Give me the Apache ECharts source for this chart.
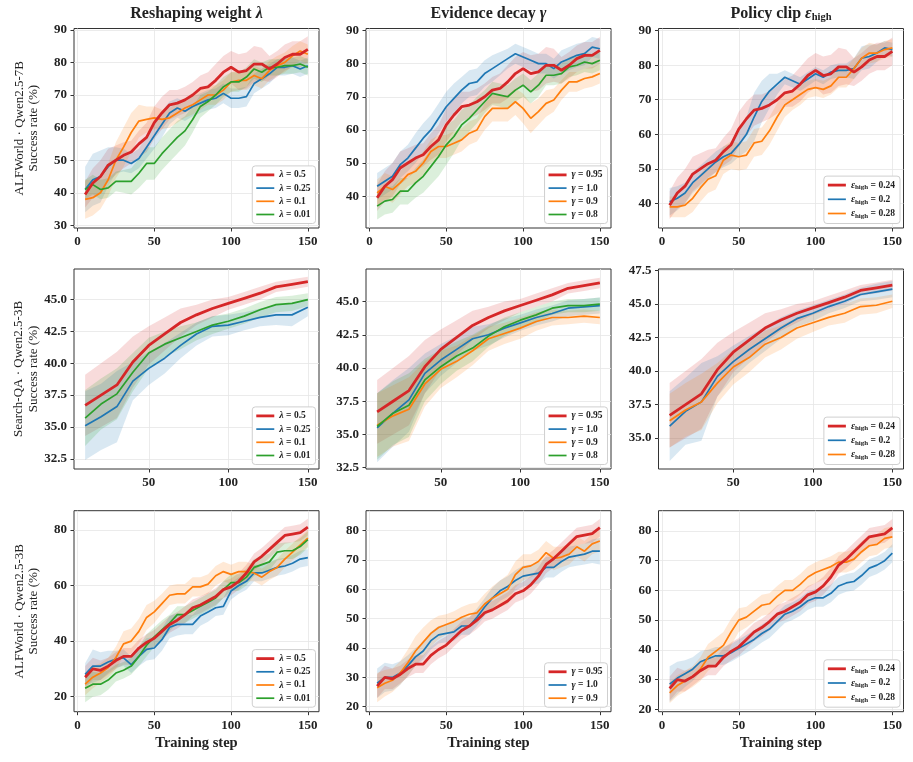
<!DOCTYPE html>
<html>
<head>
<meta charset="utf-8">
<script src="https://cdn.jsdelivr.net/npm/echarts@6/dist/echarts.min.js"></script>
<style>html,body{margin:0;padding:0;background:#fff}#chart{width:913px;height:762px}</style>
</head>
<body>
<div id="chart"></div>
<script>
// training steps
var stepsA = [5,10,15,20,25,30,35,40,45,50,55,60,65,70,75,80,85,90,95,100,105,110,115,120,125,130,135,140,145,150];
var stepsB = [10,20,30,40,50,60,70,80,90,100,110,120,130,140,150];

// row 1: ALFWorld · Qwen2.5-7B  (mean, half band)
var red1    = [39.5,43,45,48.5,50,51.5,52.5,55,57,61.5,64.5,67,67.5,68.5,70,72,72.5,74.5,77,78.5,77,77.5,79.5,79.5,78,79.5,81.5,82.5,82.5,84];
var red1Hw  = [4,4.5,5,5,4.5,4,3.5,4,4.5,5,5,4.5,4,4,4,4,4.5,5,5,5,5.5,5.5,5.5,5,4,4,4,4,4,4];
var lam25a   = [41,44,45,48,50,50,49,50.5,54,57.5,61,64.5,66,65,66.5,67.5,68.5,69,70.5,69,69,69.5,73.5,75,76.5,78.5,78.5,79,78,79];
var lam25aHw = [7,8,8,6,4,3.5,3,3,3.5,4,4,3.5,3,3,3,3,3,3,3,3,3,3,3,3,3,2.5,2.5,2.5,2.5,2.5];
var lam1a    = [38,38.5,40,44,50,54,58.5,62,62.5,63,62.5,63,64.5,66,67,68.5,70,70,71.5,74,74.5,74.5,76,75,77.5,79,80,82,83.5,82.5];
var lam1aHw  = [6,5.5,5,5,5.5,6,6,5,4,3.5,3,3,3,3,3,3,3,3,3,3,3,3,3,3,3,3,3,3,3,3];
var lam01a   = [41,42.5,41,41.5,43.5,43.5,43.5,46,49,49,52,54.5,57,59,62.5,66.5,68,70,72.5,74,74,75.5,78,77,78.5,78.5,79,79,79.5,78.5];
var lam01aHw = [3,3,3,3,3,3.5,4,4.5,5,5,5,5,5,4.5,4,3.5,3,3,3,3,3,3,3,3,2.5,2.5,2.5,2.5,2.5,2.5];
var gam10a   = [43,44.5,46,49.5,51.5,54.5,57.5,60,63.5,67,69.5,72,74,74.5,77,78.5,80,81.5,83,82,81,80,80,78.5,80.5,81.5,82.5,83,85,84.5];
var gam10aHw = [4,4,4,4,4,4.5,4.5,4.5,4.5,4.5,4.5,4,4,4,4,4,3.5,3,3,3,3,3,3,3,3.5,3.5,3.5,3.5,3,3];
var gam09a   = [41,43,42,44,46.5,47.5,50,53.5,55,55,56,57,59,60,64,66.5,66.5,66.5,68.5,66.5,63.5,65.5,68,69,72,74.5,74.5,75.5,76,77];
var gam09aHw = [4,4,4,3.5,3.5,3.5,3.5,3.5,3.5,3.5,3.5,3.5,3.5,3.5,4,4,4,4,4,4.5,4.5,4,4,3.5,3,3,3,3,3,3];
var gam08a   = [37,38.5,39,41.5,41.5,44,46,49,52,55.5,58,61.5,63.5,66,68.5,71,70.5,70,72,73.5,71.5,73.5,76.5,76.5,77,79,79.5,80.5,80,81];
var gam08aHw = [4,4,4,4,4,4.5,5,5.5,6,6,5,4.5,4,4,3.5,3.5,3.5,3.5,3.5,3.5,3.5,3.5,3,3,3,3,3,3,3,3];
var eps20a   = [40.5,41.5,43,46,48,50,52,53.5,54.5,57,60,65,69.5,72.5,74.5,76.5,75.5,74.5,76,77.5,76.5,78,78.5,78.5,79,82,82.5,83.5,85,84.5];
var eps20aHw = [4,3.5,3,3,3,3,3,3,3,3.5,5,7,6,5,3,2,2,2,2,2,2,2,2,2,3,3.5,3.5,2.5,2,2];
var eps28a   = [39,39,39.5,41.5,44.5,47,48,52.5,54,53.5,54,57.5,58,61,65,68.5,70,71.5,73,73.5,73,74,76.5,76.5,79,82,83.5,83.5,84.5,85];
var eps28aHw = [3,3,3.5,4,4,4,4,4,4,4,4,4,4,4,4,3.5,3,3,2.5,2.5,2.5,2.5,3,3,3,3,3,2.5,2.5,2.5];

// row 2: Search-QA · Qwen2.5-3B
var red2     = [36.7,37.5,38.3,40.1,41.4,42.3,43.2,43.8,44.3,44.7,45.1,45.5,46.0,46.2,46.4];
var red2Hw   = [2.4,2.5,2.6,2.0,1.5,1.3,1.1,0.8,0.7,0.5,0.5,0.5,0.4,0.4,0.4];
var lam25b   = [35.1,35.8,36.6,38.6,39.6,40.4,41.4,42.3,42.9,43.0,43.3,43.6,43.8,43.8,44.4];
var lam25bHw = [2.7,2.6,2.8,1.5,1.3,1.2,1.0,0.9,0.8,0.8,0.7,0.7,0.8,0.9,0.7];
var lam01b   = [35.7,36.8,37.6,39.3,40.8,41.5,42.0,42.5,43.0,43.3,43.7,44.2,44.6,44.7,45.0];
var lam01bHw = [2.2,2.0,2.0,1.5,1.2,1.0,0.9,0.7,0.7,0.6,0.6,0.6,0.6,0.6,0.5];
var gam10b   = [35.5,36.6,37.6,39.6,40.6,41.4,42.2,42.5,43.0,43.4,43.8,44.1,44.5,44.6,44.7];
var gam10bHw = [2.6,2.5,2.4,1.5,1.2,1.0,0.9,0.8,0.7,0.6,0.6,0.6,0.6,0.6,0.6];
var gam09b   = [35.7,36.4,36.9,38.8,39.9,40.5,41.3,42.2,42.6,43.0,43.5,43.8,43.8,43.9,43.8];
var gam09bHw = [2.4,2.3,2.4,1.7,1.4,1.2,1.1,0.9,0.8,0.8,0.7,0.6,0.5,0.5,0.5];
var gam08b   = [35.6,36.6,37.2,39.1,40.1,40.9,41.5,42.4,43.1,43.6,44.0,44.5,44.7,44.7,44.8];
var gam08bHw = [2.5,2.4,2.4,1.6,1.3,1.1,1.0,0.8,0.7,0.6,0.6,0.5,0.5,0.5,0.5];
var eps20b   = [35.9,37.0,37.7,39.6,40.7,41.6,42.4,43.2,43.9,44.3,44.8,45.2,45.7,45.9,46.1];
var eps20bHw = [2.6,2.5,2.9,1.5,1.2,1.0,0.9,0.8,0.6,0.6,0.5,0.5,0.5,0.6,0.6];
var eps28b   = [36.3,37.1,37.7,39.1,40.3,41.0,42.0,42.5,43.2,43.6,44.0,44.3,44.8,44.9,45.2];
var eps28bHw = [2.0,2.0,2.1,1.5,1.3,1.1,1.0,0.9,0.8,0.7,0.6,0.7,0.6,0.6,0.5];

// row 3: ALFWorld · Qwen2.5-3B
var red3     = [27,30,29.5,31,33,34.5,34.5,37.5,39.5,41,43.5,46,47.5,49.5,52,53,54.5,56,58.5,59.5,61.5,64.5,68.5,70.5,73,75.5,78,78.5,79,81];
var red3Hw   = [4,4,3.5,3,3,3,3,3,3,3,3,3,3,3,3,3,3,3,3,3,3,3,3,3,3,3,3,3,3,3];
var lam25c   = [28,31,31,32.5,33.5,34,31.5,34.5,37,37.5,40.5,45,46,46,46,49,50.5,52,52.5,58,60,61.5,64.5,64.5,65.5,66.5,67,68,69.5,70];
var lam25cHw = [4,6,5,4,3,3,3,3.5,4,4,4,4,4,3.5,3.5,3.5,3.5,3,3,3,3,3,3,3,3,3,3,3,3,3];
var lam1c    = [24.5,27,28.5,30.5,34,39,40,43.5,48.5,50.5,53.5,56.5,57,57,59.5,59.5,60.5,63.5,65,64,65,65,64.5,63,65,66.5,69.5,72,74.5,77];
var lam1cHw  = [4,4,3.5,3.5,4,4.5,4.5,4.5,4.5,4,3.5,3.5,3.5,3.5,3.5,3.5,3.5,3.5,3.5,3.5,3.5,3.5,3,3,3,3,3,3,3,3];
var lam01c   = [23,24.5,24.5,26,28.5,29.5,31,34.5,38.5,41.5,44,46.5,49.5,49.5,51,52.5,54,55.5,58.5,61,61,63,66.5,67.5,68.5,72,72.5,72.5,74,76.5];
var lam01cHw = [5,4.5,4,3.5,3,3,3,3.5,4,3.5,3.5,3,3,3,3,3,3,3,3,3,3,3,3,3,3,3,3,3,3,3];
var gam10c   = [28,30,30,31.5,34,37,39,42.5,44.5,45,45.5,47.5,47.5,50.5,54,57,59.5,61,63,64.5,65,65.5,67.5,67.5,69.5,71,71.5,72,73,73];
var gam10cHw = [5,5,4.5,4,3.5,3,3,3,3,3,3,3,3,3,3,3.5,3.5,3.5,3.5,3.5,3.5,3.5,3.5,3.5,3.5,3.5,3.5,3.5,4,4.5];
var gam09c   = [26.5,28,29,31.5,35,39,42,45,47,48,49,50.5,51.5,52,55,57,58.5,60,65,67.5,68,69.5,72.5,70.5,71,72,74.5,73,75.5,76.5];
var gam09cHw = [5,4.5,4,4,4.5,5,5,4.5,4,3.5,3.5,3.5,3.5,3.5,3.5,4,4.5,5,4.5,4.5,4,4,4,4,3.5,3.5,3.5,3.5,3.5,3.5];
var eps20c   = [28.5,30.5,32,33.5,36,37,38,38,39,40.5,42,43.5,45.5,47,49.5,52,53,54.5,56.5,57.5,57.5,59,61.5,62.5,63,65,67.5,68.5,70,72.5];
var eps20cHw = [6,5.5,4.5,4,3.5,3,3,3,3,3,3,3,3,3,3,3,3,3,3,3,3,3,3,3,3,3,3,3,3,3];
var eps28c   = [25.5,28,29.5,31,33.5,37.5,39.5,41.5,46,50,51,53,55,55.5,58,60,60,62,64.5,66,67,68,69.5,69.5,70.5,73,75,75.5,77.5,78];
var eps28cHw = [3.5,3.5,3.5,3.5,4,4.5,4.5,4.5,4.5,4,3.5,3.5,3.5,3.5,3.5,3.5,3.5,3.5,3.5,3.5,3.5,3.5,3.5,3.5,3.5,3.5,3.5,3.5,3.5,3.5];

// tick labels
var xTicksA = [0,50,100,150];
var xTicksB = [50,100,150];
var yTicks = [
  [[30,40,50,60,70,80,90],[40,50,60,70,80,90],[40,50,60,70,80,90]],
  [[32.5,35,37.5,40,42.5,45],[32.5,35,37.5,40,42.5,45],[35,37.5,40,42.5,45,47.5]],
  [[20,40,60,80],[20,30,40,50,60,70,80],[20,30,40,50,60,70,80]]
];
var yLimits = [
  [[29.2,90.4],[30.4,90.6],[32.9,90.6]],
  [[31.7,47.4],[32.4,47.45],[32.7,47.6]],
  [[14.6,86.9],[18.3,86.8],[19.2,86.8]]
];
var xLimits = [[-2.25,157.25],[3,157],[-2.25,157.25]];
var colTitles = ['{t|Reshaping weight }{g|λ}', '{t|Evidence decay }{g|γ}', '{t|Policy clip }{g|ε}{s|high}'];
var rowNames = ['ALFWorld · Qwen2.5-7B', 'Search-QA · Qwen2.5-3B', 'ALFWorld · Qwen2.5-3B'];

var RED = '#d62728', BLUE = '#1f77b4', ORANGE = '#ff7f0e', GREEN = '#2ca02c';

var panels = [
  [ // row 1
    { steps: stepsA, lines: [['λ = 0.5',RED,red1,red1Hw],['λ = 0.25',BLUE,lam25a,lam25aHw],['λ = 0.1',ORANGE,lam1a,lam1aHw],['λ = 0.01',GREEN,lam01a,lam01aHw]],
      legend: ['λ = 0.5','λ = 0.25','λ = 0.1','λ = 0.01'] },
    { steps: stepsA, lines: [['γ = 0.95',RED,red1,red1Hw],['γ = 1.0',BLUE,gam10a,gam10aHw],['γ = 0.9',ORANGE,gam09a,gam09aHw],['γ = 0.8',GREEN,gam08a,gam08aHw]],
      legend: ['γ = 0.95','γ = 1.0','γ = 0.9','γ = 0.8'] },
    { steps: stepsA, lines: [['ε = 0.24',RED,red1,red1Hw],['ε = 0.2',BLUE,eps20a,eps20aHw],['ε = 0.28',ORANGE,eps28a,eps28aHw]],
      legend: ['ε = 0.24','ε = 0.2','ε = 0.28'] }
  ],
  [ // row 2
    { steps: stepsB, lines: [['λ = 0.5',RED,red2,red2Hw],['λ = 0.25',BLUE,lam25b,lam25bHw],['λ = 0.01',GREEN,lam01b,lam01bHw]],
      legend: ['λ = 0.5','λ = 0.25','λ = 0.1','λ = 0.01'] },
    { steps: stepsB, lines: [['γ = 0.95',RED,red2,red2Hw],['γ = 1.0',BLUE,gam10b,gam10bHw],['γ = 0.9',ORANGE,gam09b,gam09bHw],['γ = 0.8',GREEN,gam08b,gam08bHw]],
      legend: ['γ = 0.95','γ = 1.0','γ = 0.9','γ = 0.8'] },
    { steps: stepsB, lines: [['ε = 0.24',RED,red2,red2Hw],['ε = 0.2',BLUE,eps20b,eps20bHw],['ε = 0.28',ORANGE,eps28b,eps28bHw]],
      legend: ['ε = 0.24','ε = 0.2','ε = 0.28'] }
  ],
  [ // row 3
    { steps: stepsA, lines: [['λ = 0.5',RED,red3,red3Hw],['λ = 0.25',BLUE,lam25c,lam25cHw],['λ = 0.1',ORANGE,lam1c,lam1cHw],['λ = 0.01',GREEN,lam01c,lam01cHw]],
      legend: ['λ = 0.5','λ = 0.25','λ = 0.1','λ = 0.01'] },
    { steps: stepsA, lines: [['γ = 0.95',RED,red3,red3Hw],['γ = 1.0',BLUE,gam10c,gam10cHw],['γ = 0.9',ORANGE,gam09c,gam09cHw]],
      legend: ['γ = 0.95','γ = 1.0','γ = 0.9'] },
    { steps: stepsA, lines: [['ε = 0.24',RED,red3,red3Hw],['ε = 0.2',BLUE,eps20c,eps20cHw],['ε = 0.28',ORANGE,eps28c,eps28cHw]],
      legend: ['ε = 0.24','ε = 0.2','ε = 0.28'] }
  ]
];

// layout in px
var W = 913, H = 762;
var colLeft = [74, 366, 658.5], plotW = 245;
var rowTop = [28.5, 269, 510.7], rowH = [199.5, 200, 201];
var FONT = 'Liberation Serif';
var INK = '#222';

var grids = [], xAxes = [], yAxes = [], series = [], legends = [], graphics = [];

function rgba(hex, a) {
  var n = parseInt(hex.slice(1), 16);
  return 'rgba(' + (n >> 16) + ',' + ((n >> 8) & 255) + ',' + (n & 255) + ',' + a + ')';
}

function legendLabel(name) {
  var parts = name.split(' = ');
  if (parts[0] === 'ε') return '{g|ε}{s|high}{t| = ' + parts[1] + '}';
  return '{g|' + parts[0] + '}{t| = ' + parts[1] + '}';
}

// legend swatch: a flat bar, thicker for the red baseline
var ICON_THICK = 'path://M0,0h20v3.1h-20z';
var ICON_THIN = 'path://M0,0h20v1.9h-20z';

function bandSeries(gi, steps, mean, hw, col) {
  var pts = mean.map(function (m, i) { return [steps[i], m - hw[i], m + hw[i]]; });
  return {
    type: 'custom', xAxisIndex: gi, yAxisIndex: gi, silent: true, z: 1,
    encode: { x: 0, y: [1, 2] }, data: pts,
    renderItem: function (params, api) {
      if (params.dataIndex !== 0) return null;
      var up = [], dn = [];
      for (var i = 0; i < pts.length; i++) {
        up.push(api.coord([pts[i][0], pts[i][2]]));
        dn.push(api.coord([pts[i][0], pts[i][1]]));
      }
      return { type: 'polygon', silent: true,
        shape: { points: up.concat(dn.reverse()) },
        style: { fill: rgba(col, 0.17), stroke: null } };
    }
  };
}

panels.forEach(function (row, r) {
  row.forEach(function (p, c) {
    var gi = grids.length;
    grids.push({ left: colLeft[c], top: rowTop[r], width: plotW, height: rowH[r],
      show: true, borderColor: '#333', borderWidth: 1, backgroundColor: 'transparent' });
    var xt = r === 1 ? xTicksB : xTicksA;
    xAxes.push({
      type: 'value', gridIndex: gi, min: xLimits[r][0], max: xLimits[r][1],
      name: r === 2 ? 'Training step' : '', nameLocation: 'middle', nameGap: 24,
      nameTextStyle: { fontFamily: FONT, fontWeight: 'bold', fontSize: 14.5, color: INK },
      axisLine: { show: false, onZero: false },
      axisTick: { show: true, length: 3.5, customValues: xt, lineStyle: { color: '#333' } },
      axisLabel: { customValues: xt, margin: 7, fontFamily: FONT, fontWeight: 'bold', fontSize: 13, color: INK },
      splitLine: { show: true, lineStyle: { color: '#e6e6e6', width: 0.8 } }
    });
    var yt = yTicks[r][c];
    yAxes.push({
      type: 'value', gridIndex: gi, min: yLimits[r][c][0], max: yLimits[r][c][1],
      name: c === 0 ? rowNames[r] + '\nSuccess rate (%)' : '', nameLocation: 'middle', nameRotate: 90, nameGap: 33,
      nameTextStyle: { fontFamily: FONT, fontSize: 13, lineHeight: 14.5, color: INK },
      axisLine: { show: false, onZero: false },
      axisTick: { show: true, length: 3.5, customValues: yt, lineStyle: { color: '#333' } },
      axisLabel: { customValues: yt, margin: 7, fontFamily: FONT, fontWeight: 'bold', fontSize: 13, color: INK,
        formatter: function (v) { return r === 1 ? v.toFixed(1) : String(v); } },
      splitLine: { show: true, lineStyle: { color: '#e6e6e6', width: 0.8 } }
    });

    // bands first, then lines (red on top)
    p.lines.forEach(function (ln) {
      series.push(bandSeries(gi, p.steps, ln[2], ln[3], ln[1]));
    });
    p.lines.forEach(function (ln) {
      var isRed = ln[1] === RED;
      series.push({ type: 'line', name: ln[0], xAxisIndex: gi, yAxisIndex: gi, symbol: 'none',
        color: ln[1], lineStyle: { color: ln[1], width: isRed ? 2.8 : 1.7 }, z: isRed ? 4 : 3,
        data: ln[2].map(function (m, i) { return [p.steps[i], m]; }) });
    });

    var frameRight = colLeft[c] + plotW, frameBottom = rowTop[r] + rowH[r];
    legends.push({
      data: p.legend.map(function (n, k) { return { name: n, icon: k === 0 ? ICON_THICK : ICON_THIN }; }),
      orient: 'vertical', right: W - frameRight + 3.5, bottom: H - frameBottom + 4.5,
      itemWidth: 18, itemHeight: 10, itemGap: 3.2, padding: [4, 5, 4, 4],
      backgroundColor: '#fff', borderColor: '#cfcfcf', borderWidth: 1, borderRadius: 3,
      selectedMode: false,
      formatter: legendLabel,
      textStyle: { fontFamily: FONT, fontWeight: 'bold', fontSize: 9.5, color: INK,
        rich: {
          g: { fontFamily: FONT, fontStyle: 'italic', fontWeight: 'bold', fontSize: 10, color: INK, lineHeight: 12 },
          s: { fontFamily: FONT, fontWeight: 'bold', fontSize: 7, color: INK, verticalAlign: 'bottom', lineHeight: 12, padding: [3, 0, 0, 0] },
          t: { fontFamily: FONT, fontWeight: 'bold', fontSize: 9.5, color: INK, lineHeight: 12 }
        } }
    });
  });
});

colTitles.forEach(function (t, c) {
  graphics.push({ type: 'text', x: colLeft[c] + plotW / 2, y: 14, silent: true,
    style: { text: t, align: 'center', verticalAlign: 'middle',
      rich: {
        t: { fontFamily: FONT, fontWeight: 'bold', fontSize: 16, fill: INK },
        g: { fontFamily: FONT, fontStyle: 'italic', fontWeight: 'bold', fontSize: 16, fill: INK },
        s: { fontFamily: FONT, fontWeight: 'bold', fontSize: 10.5, fill: INK, padding: [7, 0, 0, 0] }
      } } });
});

var chart = echarts.init(document.getElementById('chart'));
chart.setOption({
  animation: false,
  backgroundColor: '#fff',
  grid: grids, xAxis: xAxes, yAxis: yAxes, series: series, legend: legends, graphic: graphics
});
</script>
</body>
</html>
